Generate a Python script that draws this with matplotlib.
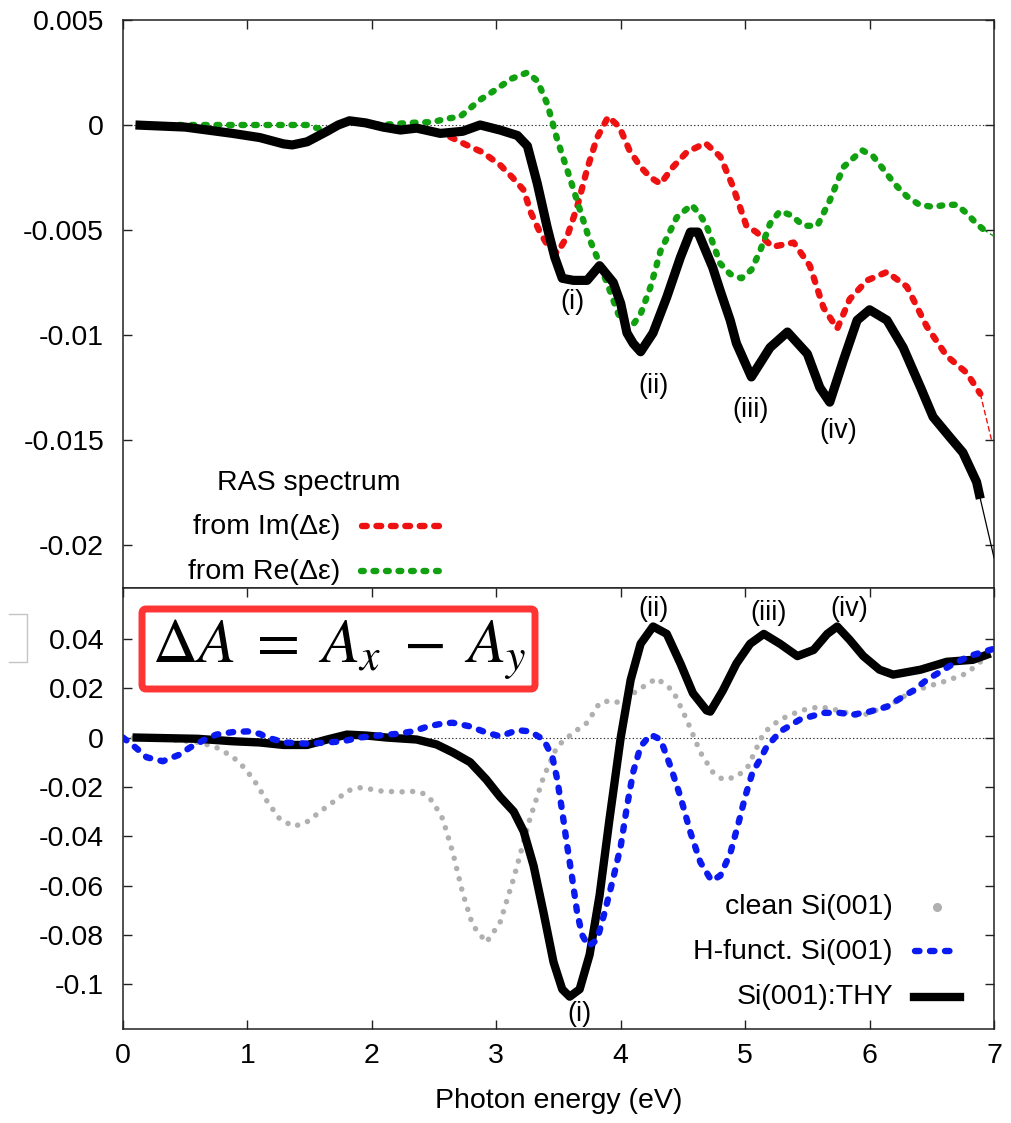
import matplotlib
matplotlib.use("Agg")
import numpy as np
import matplotlib.pyplot as plt
from matplotlib.lines import Line2D
from matplotlib.patches import FancyBboxPatch

# ---------------- data ----------------
# Upper panel: RAS spectrum of Si(001):THY and the parts from Im / Re of delta-epsilon
ras_thy_x = [0.10, 0.50, 0.88, 1.10, 1.29, 1.36, 1.48, 1.64, 1.73, 1.82, 1.95, 2.09, 2.23, 2.36, 2.55,
             2.73, 2.87, 3.03, 3.17, 3.25, 3.33, 3.41, 3.47, 3.53, 3.62, 3.73, 3.83, 3.94, 4.00,
             4.05, 4.10, 4.16, 4.26, 4.37, 4.48, 4.56, 4.62, 4.74, 4.80, 4.88, 4.93, 5.05, 5.20,
             5.34, 5.50, 5.60, 5.68, 5.79, 5.90, 6.00, 6.14, 6.27, 6.41, 6.51, 6.65, 6.75, 6.86,
             6.89, 7.00]
ras_thy_y = [0.0, -0.0001, -0.0004, -0.0006, -0.0009, -0.00095, -0.0008, -0.0003, 0.0, 0.0002,
             0.0001, -0.0001, -0.00024, -0.00015, -0.0004, -0.0003, 0.0, -0.00024, -0.0005,
             -0.001, -0.0028, -0.0049, -0.0063, -0.0073, -0.0074, -0.0074, -0.0067, -0.0075,
             -0.0085, -0.0099, -0.0104, -0.0108, -0.0099, -0.0082, -0.0063, -0.0051, -0.0051,
             -0.0068, -0.0079, -0.0093, -0.0104, -0.0120, -0.0106, -0.00986, -0.0109, -0.0125,
             -0.0132, -0.0112, -0.0093, -0.0088, -0.0093, -0.0106, -0.0125, -0.0139, -0.0149,
             -0.0156, -0.0170, -0.0178, -0.0206]

ras_im_x = [2.63, 2.76, 2.89, 3.03, 3.13, 3.22, 3.28, 3.35, 3.42, 3.49, 3.57, 3.65, 3.73, 3.81,
            3.90, 3.99, 4.07, 4.16, 4.24, 4.32, 4.42, 4.53, 4.68, 4.80, 4.90, 5.01, 5.09, 5.22,
            5.39, 5.52, 5.63, 5.74, 5.84, 5.98, 6.14, 6.30, 6.46, 6.62, 6.78, 6.89, 6.98]
ras_im_y = [-0.00057, -0.00095, -0.0013, -0.0019, -0.0025, -0.0031, -0.0042, -0.0051, -0.0058,
            -0.0061, -0.0053, -0.0039, -0.0021, -0.0006, 0.0004, -0.0001, -0.0012, -0.0020,
            -0.0025, -0.0028, -0.0020, -0.0013, -0.00086, -0.0015, -0.0029, -0.0048, -0.0051,
            -0.0058, -0.0056, -0.0067, -0.0087, -0.0097, -0.0083, -0.0074, -0.0070, -0.0077,
            -0.0096, -0.0110, -0.0118, -0.0128, -0.0150]

ras_re_x = [0.45, 1.00, 1.48, 1.64, 1.73, 1.82, 1.95, 2.08, 2.30, 2.49, 2.60, 2.71, 2.87, 3.00,
            3.12, 3.25, 3.33, 3.41, 3.49, 3.59, 3.67, 3.74, 3.81, 3.92, 3.98, 4.05, 4.10, 4.16,
            4.24, 4.32, 4.45, 4.57, 4.64, 4.69, 4.80, 4.88, 4.97, 5.05, 5.12, 5.20, 5.28, 5.37,
            5.47, 5.58, 5.68, 5.79, 5.94, 6.03, 6.11, 6.20, 6.30, 6.40, 6.51, 6.62, 6.70, 6.78,
            6.86, 6.92, 7.00]
ras_re_y = [0.0, 0.0, 0.0, -0.0003, 0.0, 0.0002, 0.0001, 0.0, 0.0001, 0.00014, 0.0003, 0.0004,
            0.0012, 0.0017, 0.0022, 0.0025, 0.0021, 0.0010, -0.0007, -0.0025, -0.0040, -0.0053,
            -0.0063, -0.0080, -0.0090, -0.0096, -0.0095, -0.0090, -0.0077, -0.0060, -0.0044,
            -0.0038, -0.0043, -0.0048, -0.0066, -0.0071, -0.0073, -0.0069, -0.0060, -0.0047,
            -0.0041, -0.0043, -0.0048, -0.0048, -0.0036, -0.0020, -0.0012, -0.0015, -0.0021,
            -0.0028, -0.0034, -0.0038, -0.0039, -0.0038, -0.0038, -0.0042, -0.0047, -0.0050,
            -0.0053]

# Lower panel: reflectance anisotropy Delta A
clean_x = [0.00, 0.30, 0.62, 0.75, 0.88, 0.97, 1.05, 1.16, 1.26, 1.37, 1.47, 1.56, 1.65, 1.72,
           1.81, 1.91, 2.00, 2.09, 2.25, 2.36, 2.43, 2.49, 2.57, 2.65, 2.73, 2.81, 2.92, 3.03,
           3.14, 3.27, 3.38, 3.49, 3.62, 3.73, 3.83, 3.92, 4.00, 4.13, 4.29, 4.42, 4.53, 4.64,
           4.74, 4.82, 4.93, 5.02, 5.15, 5.28, 5.45, 5.60, 5.75, 5.92, 6.05, 6.19, 6.32, 6.46,
           6.62, 6.78, 6.91]
clean_y = [0.0, -0.0005, -0.002, -0.004, -0.0077, -0.012, -0.017, -0.026, -0.033, -0.036,
           -0.0345, -0.031, -0.0275, -0.025, -0.0215, -0.0203, -0.021, -0.0218, -0.022, -0.0218,
           -0.023, -0.026, -0.033, -0.0465, -0.063, -0.076, -0.083, -0.075, -0.057, -0.033,
           -0.016, -0.0035, 0.002, 0.006, 0.014, 0.015, 0.014, 0.019, 0.024, 0.019, 0.0073,
           -0.006, -0.014, -0.017, -0.016, -0.012, 0.002, 0.0073, 0.011, 0.0125, 0.011, 0.0085,
           0.011, 0.014, 0.018, 0.0206, 0.023, 0.026, 0.0315]

hfunct_x = [0.00, 0.10, 0.19, 0.32, 0.45, 0.54, 0.65, 0.75, 0.88, 1.00, 1.10, 1.16, 1.30, 1.48,
            1.64, 1.77, 1.90, 2.09, 2.20, 2.33, 2.45, 2.57, 2.65, 2.79, 2.92, 3.03, 3.17, 3.27,
            3.38, 3.45, 3.49, 3.53, 3.57, 3.61, 3.65, 3.69, 3.74, 3.81, 3.87, 3.94, 4.00, 4.05,
            4.10, 4.16, 4.24, 4.32, 4.40, 4.48, 4.56, 4.64, 4.73, 4.80, 4.88, 4.95, 5.00, 5.06,
            5.12, 5.17, 5.28, 5.44, 5.63, 5.76, 5.87, 6.00, 6.14, 6.25, 6.35, 6.46, 6.57, 6.66,
            6.80, 7.00]
hfunct_y = [0.0, -0.004, -0.008, -0.0096, -0.007, -0.004, -0.001, 0.0012, 0.0022, 0.0025,
            0.0015, 0.0, -0.002, -0.0025, -0.002, -0.0015, 0.0, 0.001, 0.0015, 0.0025, 0.0045,
            0.0057, 0.006, 0.0045, 0.002, 0.0005, 0.003, 0.0025, -0.0008, -0.0077, -0.017,
            -0.030, -0.044, -0.057, -0.071, -0.080, -0.0845, -0.082, -0.071, -0.057, -0.044,
            -0.028, -0.014, -0.0036, 0.0012, -0.0008, -0.0117, -0.024, -0.0384, -0.0505, -0.058,
            -0.056, -0.047, -0.034, -0.024, -0.014, -0.0089, -0.004, 0.0024, 0.0073, 0.010,
            0.010, 0.0093, 0.0105, 0.0125, 0.016, 0.019, 0.0234, 0.0267, 0.0295, 0.033, 0.036]

thy_x = [0.11, 0.60, 0.88, 1.10, 1.29, 1.48, 1.64, 1.80, 1.96, 2.12, 2.36, 2.52, 2.65, 2.79,
         2.92, 3.03, 3.14, 3.22, 3.30, 3.38, 3.46, 3.53, 3.59, 3.67, 3.75, 3.83, 3.91, 4.00,
         4.08, 4.16, 4.26, 4.37, 4.48, 4.58, 4.69, 4.72, 4.82, 4.93, 5.04, 5.15, 5.28, 5.42,
         5.55, 5.66, 5.74, 5.84, 5.95, 6.08, 6.19, 6.41, 6.62, 6.83, 6.94]
thy_y = [0.0, -0.0005, -0.0015, -0.002, -0.003, -0.003, -0.0008, 0.0012, 0.0008, 0.0, -0.0008,
         -0.0028, -0.006, -0.010, -0.017, -0.024, -0.030, -0.038, -0.052, -0.071, -0.091,
         -0.102, -0.105, -0.102, -0.088, -0.064, -0.033, 0.0, 0.0234, 0.038, 0.045, 0.042,
         0.030, 0.018, 0.011, 0.0105, 0.019, 0.030, 0.038, 0.042, 0.038, 0.033, 0.0355, 0.042,
         0.045, 0.0396, 0.033, 0.0275, 0.0255, 0.0275, 0.0307, 0.0315, 0.0335]

# Peak labels (text, x, y)
top_peaks = [("(i)", 3.61, -0.00843), ("(ii)", 4.26, -0.01243),
             ("(iii)", 5.04, -0.01357), ("(iv)", 5.75, -0.01457)]
bottom_peaks = [("(i)", 3.67, -0.1119), ("(ii)", 4.26, 0.0521),
                ("(iii)", 5.19, 0.0505), ("(iv)", 5.84, 0.0521)]

x_ticks = [0, 1, 2, 3, 4, 5, 6, 7]
top_yticks = [0.005, 0.0, -0.005, -0.01, -0.015, -0.02]
top_ylabels = ["0.005", "0", "-0.005", "-0.01", "-0.015", "-0.02"]
bot_yticks = [0.04, 0.02, 0.0, -0.02, -0.04, -0.06, -0.08, -0.1]
bot_ylabels = ["0.04", "0.02", "0", "-0.02", "-0.04", "-0.06", "-0.08", "-0.1"]

THICK_END = 6.895  # beyond this energy the curves are only drawn thin

# ---------------- style ----------------
plt.rcParams['font.family'] = ['Liberation Sans', 'DejaVu Sans']
plt.rcParams['axes.unicode_minus'] = False
plt.rcParams['lines.scale_dashes'] = False
plt.rcParams['mathtext.fontset'] = 'stix'

FS = 20.5
RED = '#ee1111'
GREEN = '#10a010'
BLUE = '#0a1af0'
GRAY = '#b0b0b0'

W, H = 1012, 1123
fig = plt.figure(figsize=(W / 100, H / 100), dpi=100)


def fx(x):
    return x / W


def fy(y):
    return 1 - y / H


ax1 = fig.add_axes([fx(123), fy(588), fx(994) - fx(123), fy(20) - fy(588)])
ax2 = fig.add_axes([fx(123), fy(1029), fx(994) - fx(123), fy(588) - fy(1029)])

for ax in (ax1, ax2):
    for s in ax.spines.values():
        s.set_linewidth(1.1)
        s.set_color('#222222')
    ax.set_xlim(0, 7)
    ax.set_xticks(x_ticks)
    ax.axhline(0, color='#333333', lw=0.8, ls=(0, (1.0, 1.6)), zorder=1)
    ax.tick_params(direction='in', length=6.5, width=1.0, top=True, right=True,
                   labelsize=FS, color='#222222')
    ax.tick_params(axis='y', pad=13.5)

ax1.set_ylim(-0.02205, 0.005)
ax1.set_yticks(top_yticks, top_ylabels)
ax1.tick_params(axis='x', bottom=False, labelbottom=False)

ax2.set_ylim(-0.1181, 0.0606)
ax2.set_yticks(bot_yticks, bot_ylabels)
ax2.tick_params(axis='x', pad=10)
ax2.set_xlabel("Photon energy (eV)", fontsize=FS, labelpad=14)

# ---------------- upper panel ----------------
ix = np.array(ras_im_x)
iy = np.array(ras_im_y)
m = ix <= THICK_END
ax1.plot(ix[m], iy[m], color=RED, lw=4.6, ls=(0, (3.4, 7.0)), dash_capstyle='round', zorder=3)
ax1.plot(ix[ix >= ix[m][-1]], iy[ix >= ix[m][-1]], color=RED, lw=1.0, ls=(0, (4, 2)), zorder=3)

rx = np.array(ras_re_x)
ry = np.array(ras_re_y)
m = rx <= 6.93
ax1.plot(rx[m], ry[m], color=GREEN, lw=4.6, ls=(0, (2.0, 7.0)), dash_capstyle='round', zorder=4)
ax1.plot(rx[rx >= rx[m][-1]], ry[rx >= rx[m][-1]], color=GREEN, lw=1.0, ls=(0, (3, 2)), zorder=4)

tx = np.array(ras_thy_x)
ty = np.array(ras_thy_y)
thick = tx <= THICK_END
ax1.plot(tx[thick], ty[thick], color='black', lw=6.6, solid_capstyle='butt',
         solid_joinstyle='round', zorder=5)
ax1.plot(tx[tx >= tx[thick][-1]], ty[tx >= tx[thick][-1]], color='black', lw=0.9, zorder=5)

for t, x, y in top_peaks:
    ax1.text(x, y, t, fontsize=FS - 1, ha='center', va='center', zorder=6)

# legend of the upper panel
fig.text(fx(309), fy(483), "RAS spectrum", fontsize=FS, ha='center', va='center')
fig.text(fx(340), fy(527), "from Im(\u0394\u03b5)", fontsize=FS, ha='right', va='center')
fig.text(fx(340), fy(572), "from Re(\u0394\u03b5)", fontsize=FS, ha='right', va='center')
fig.add_artist(Line2D([fx(362), fx(440)], [fy(526), fy(526)], color=RED, lw=4.6,
                      ls=(0, (3.4, 7.0)), dash_capstyle='round'))
fig.add_artist(Line2D([fx(361), fx(441)], [fy(571), fy(571)], color=GREEN, lw=4.6,
                      ls=(0, (2.0, 7.0)), dash_capstyle='round'))

# ---------------- lower panel ----------------
ax2.plot(clean_x, clean_y, color=GRAY, lw=4.0, ls=(0, (0.01, 7.6)), dash_capstyle='round',
         zorder=2)
ax2.plot(thy_x, thy_y, color='black', lw=6.0, solid_joinstyle='round', zorder=3)
ax2.plot(hfunct_x, hfunct_y, color=BLUE, lw=4.6, ls=(0, (3.2, 7.6)), dash_capstyle='round',
         zorder=4)

for t, x, y in bottom_peaks:
    ax2.text(x, y, t, fontsize=FS - 1, ha='center', va='center', zorder=6)

# legend of the lower panel
fig.text(fx(893), fy(907), "clean Si(001)", fontsize=FS, ha='right', va='center')
fig.text(fx(893), fy(952), "H-funct. Si(001)", fontsize=FS, ha='right', va='center')
fig.text(fx(893), fy(997), "Si(001):THY", fontsize=FS, ha='right', va='center')
fig.add_artist(Line2D([fx(937)], [fy(907)], color=GRAY, marker='o', ms=5.5, lw=0))
fig.add_artist(Line2D([fx(915), fx(958)], [fy(951), fy(951)], color=BLUE, lw=4.6,
                      ls=(0, (3.2, 7.6)), dash_capstyle='round'))
fig.add_artist(Line2D([fx(914), fx(960)], [fy(997), fy(997)], color='black', lw=6.0))

# Delta A definition box
box = FancyBboxPatch((fx(142), fy(689)), fx(535) - fx(142), fy(609) - fy(689),
                     boxstyle="round,pad=0,rounding_size=0.004", transform=fig.transFigure,
                     facecolor='white', edgecolor='#ff3535', lw=5.0, zorder=10)
fig.add_artist(box)
fig.text(fx(339), fy(650), r"$\Delta A\;=\;A_x\;-\;A_y$", fontsize=45,
         ha='center', va='center', zorder=11)

# small bracket at the left margin
fig.add_artist(Line2D([fx(9), fx(27), fx(27), fx(9)], [fy(614), fy(614), fy(662), fy(662)],
                      color='#c4c4c4', lw=1.0))

fig.savefig("out.png", dpi=100)
